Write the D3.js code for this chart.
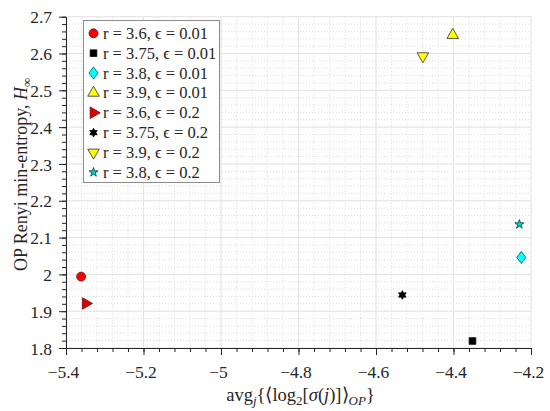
<!DOCTYPE html>
<html><head><meta charset="utf-8">
<script src="https://cdn.jsdelivr.net/npm/d3@7"></script>
<style>
html,body{margin:0;padding:0;background:#fff;}
svg text{font-family:"Liberation Serif","Times New Roman",serif;fill:#262626;}
</style></head>
<body><svg id="c" width="550" height="411"></svg>
<script>
const labels = ["r = 3.6, ϵ = 0.01","r = 3.75, ϵ = 0.01","r = 3.8, ϵ = 0.01","r = 3.9, ϵ = 0.01",
                "r = 3.6, ϵ = 0.2","r = 3.75, ϵ = 0.2","r = 3.9, ϵ = 0.2","r = 3.8, ϵ = 0.2"];
const xVals = [-5.361, -4.351, -4.225, -4.402, -5.349, -4.532, -4.479, -4.230];
const yVals = [1.994, 1.819, 2.046, 2.650, 1.921, 1.944, 2.593, 2.136];
const markers = ["circle","square","diamond","triUp","triRight","hexagram","triDown","pentagram"];
const fills = ["#ff0000","#000000","#00ffff","#ffff00","#e00000","#000000","#ffff00","#00cccc"];
const strokes = ["#700000","#000000","#006060","#303030","#700000","#000000","#303030","#004848"];
const xTicks = [-5.4,-5.2,-5,-4.8,-4.6,-4.4,-4.2];
const yTicks = [1.8,1.9,2,2.1,2.2,2.3,2.4,2.5,2.6,2.7];

const svg = d3.select("#c");
const L=66, R=531, T=16.7, B=348;
const x = d3.scaleLinear().domain([-5.4,-4.2]).range([L,R]);
const y = d3.scaleLinear().domain([1.8,2.7]).range([B,T]);

const xMinor = d3.range(0,31).map(i=>-5.4+i*0.04);
const yMinor = d3.range(0,46).map(i=>1.8+i*0.02);

const g = svg.append("g");
g.selectAll(".mgx").data(xMinor).enter().append("line")
 .attr("x1",d=>x(d)).attr("x2",d=>x(d)).attr("y1",T).attr("y2",B)
 .attr("stroke","#d4d4d4").attr("stroke-width",0.8).attr("stroke-dasharray","1,2");
g.selectAll(".mgy").data(yMinor).enter().append("line")
 .attr("y1",d=>y(d)).attr("y2",d=>y(d)).attr("x1",L).attr("x2",R)
 .attr("stroke","#d4d4d4").attr("stroke-width",0.8).attr("stroke-dasharray","1,2");
g.selectAll(".gx").data(xTicks).enter().append("line")
 .attr("x1",d=>x(d)).attr("x2",d=>x(d)).attr("y1",T).attr("y2",B)
 .attr("stroke","#e4e4e4").attr("stroke-width",1);
g.selectAll(".gy").data(yTicks).enter().append("line")
 .attr("y1",d=>y(d)).attr("y2",d=>y(d)).attr("x1",L).attr("x2",R)
 .attr("stroke","#e4e4e4").attr("stroke-width",1);

const fmt = d=> (d<0?"\u2212":"") + String(Math.abs(+d.toFixed(2)));
const xAxis = d3.axisBottom(x).tickValues(xTicks).tickFormat(fmt).tickSize(7).tickSizeOuter(0);
const xMinAxis = d3.axisBottom(x).tickValues(xMinor).tickFormat("").tickSize(4).tickSizeOuter(0);
const yAxis = d3.axisLeft(y).tickValues(yTicks).tickFormat(d=>String(+d.toFixed(2))).tickSize(7).tickSizeOuter(0);
const yMinAxis = d3.axisLeft(y).tickValues(yMinor).tickFormat("").tickSize(4).tickSizeOuter(0);

function style(sel){
  sel.selectAll("path,line").attr("stroke","#262626").attr("stroke-width",1);
  sel.selectAll("text").attr("fill","#262626").style("font-family","'Liberation Serif', serif").style("font-size","17.5px");
}
const gx2 = svg.append("g").attr("transform",`translate(0,${B})`).call(xMinAxis); style(gx2);
const gx = svg.append("g").attr("transform",`translate(0,${B})`).call(xAxis); style(gx);
gx.selectAll("text").attr("dy","0").attr("y",30).attr("dx","-3");
const gy2 = svg.append("g").attr("transform",`translate(${L},0)`).call(yMinAxis); style(gy2);
const gy = svg.append("g").attr("transform",`translate(${L},0)`).call(yAxis); style(gy);
gy.selectAll("text").attr("x",-14).attr("dy","0.35em");

const xt = svg.append("text").attr("x",(L+R)/2 + 2).attr("y",401).attr("text-anchor","middle").style("font-size","18.5px");
xt.append("tspan").text("avg");
xt.append("tspan").attr("font-style","italic").attr("font-size","13px").attr("dy",4).text("j");
xt.append("tspan").attr("dy",-4).text("{\u27E8log");
xt.append("tspan").attr("font-size","13px").attr("dy",4).text("2");
xt.append("tspan").attr("dy",-4).text("[");
xt.append("tspan").attr("font-style","italic").text("\u03C3");
xt.append("tspan").text("(");
xt.append("tspan").attr("font-style","italic").text("j");
xt.append("tspan").text(")]\u27E9");
xt.append("tspan").attr("font-style","italic").attr("font-size","13px").attr("dy",4).text("OP");
xt.append("tspan").attr("dy",-4).text("}");

const yt = svg.append("text").attr("transform",`translate(27,${(T+B)/2 - 8}) rotate(-90)`).attr("text-anchor","middle").style("font-size","18px");
yt.append("tspan").text("OP Renyi min-entropy, ");
yt.append("tspan").attr("font-style","italic").text("H");
yt.append("tspan").attr("font-size","13px").attr("dy",4).text("\u221E");

const hexagram = {draw(ctx,size){
  const r = Math.sqrt(size/1.6), ri = r*0.55;
  for(let i=0;i<12;i++){
    const a = -Math.PI/2 + i*Math.PI/6, rr = i%2?ri:r;
    const px = rr*Math.cos(a), py = rr*Math.sin(a);
    i?ctx.lineTo(px,py):ctx.moveTo(px,py);
  }
  ctx.closePath();
}};
const diamond = {draw(ctx,size){
  const h = Math.sqrt(size)*0.8, w = h*0.75;
  ctx.moveTo(0,-h); ctx.lineTo(w,0); ctx.lineTo(0,h); ctx.lineTo(-w,0); ctx.closePath();
}};
function symPath(m){
  switch(m){
    case "circle": return {p:d3.symbol(d3.symbolCircle,62)(), rot:0};
    case "square": return {p:d3.symbol(d3.symbolSquare,44)(), rot:0};
    case "diamond": return {p:d3.symbol(diamond,58)(), rot:0};
    case "triUp": return {p:d3.symbol(d3.symbolTriangle,58)(), rot:0};
    case "triDown": return {p:d3.symbol(d3.symbolTriangle,58)(), rot:180};
    case "triRight": return {p:d3.symbol(d3.symbolTriangle,58)(), rot:90};
    case "hexagram": return {p:d3.symbol(hexagram,30)(), rot:0};
    case "pentagram": return {p:d3.symbol(d3.symbolStar,26)(), rot:0};
  }
}
const idx = d3.range(labels.length);
svg.append("g").selectAll("path").data(idx).enter().append("path")
 .attr("d",i=>symPath(markers[i]).p)
 .attr("transform",i=>`translate(${x(xVals[i])},${y(yVals[i])}) rotate(${symPath(markers[i]).rot})`)
 .attr("fill",i=>fills[i]).attr("stroke",i=>strokes[i]).attr("stroke-width",0.8);

const lg = svg.append("g");
lg.append("rect").attr("x",83.5).attr("y",20.5).attr("width",136).attr("height",162)
  .attr("fill","#fff").attr("stroke","#8c8c8c").attr("stroke-width",1);
const rowY = i=>33.3 + i*19.86;
lg.selectAll("path").data(idx).enter().append("path")
 .attr("d",i=>symPath(markers[i]).p)
 .attr("transform",i=>`translate(93.5,${rowY(i)}) rotate(${symPath(markers[i]).rot})`)
 .attr("fill",i=>fills[i]).attr("stroke",i=>strokes[i]).attr("stroke-width",0.8);
lg.selectAll("text").data(idx).enter().append("text")
 .attr("x",103).attr("y",i=>rowY(i)+5.5).style("font-size","16.5px").text(i=>labels[i]);
</script></body></html>
